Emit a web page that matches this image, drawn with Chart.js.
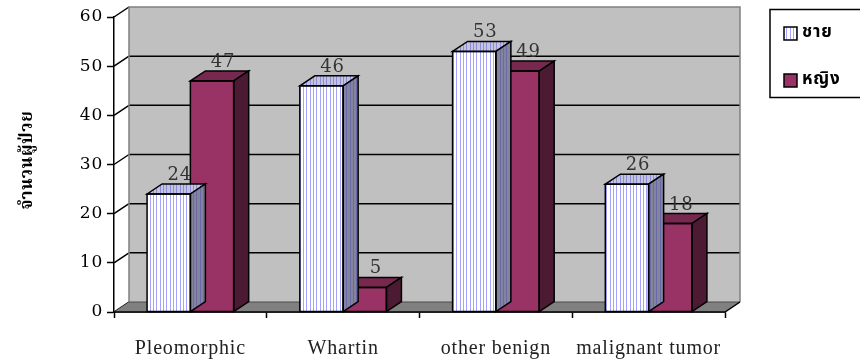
<!DOCTYPE html>
<html>
<head>
<meta charset="utf-8">
<script src="https://cdn.jsdelivr.net/npm/chart.js@4/dist/chart.umd.min.js"></script>
<style>
  html, body { margin: 0; padding: 0; background: #ffffff; }
  #wrap { width: 860px; height: 360px; }
</style>
</head>
<body>
<div id="wrap"><canvas id="c" width="860" height="360"></canvas></div>
<script>
// ---- data ----
const categories = ['Pleomorphic', 'Whartin', 'other benign', 'malignant tumor'];
const maleCounts = [24, 46, 53, 26];
const femaleCounts = [47, 5, 49, 18];
const seriesNames = ['ชาย', 'หญิง'];
const yTickValues = [0, 10, 20, 30, 40, 50, 60];
const yTitle = 'จำนวนผู้ป่วย';

// ---- look ----
const DX = 15, DY = 10;            // depth offset of the 3-D box
const SERIF = '"Liberation Serif", "Times New Roman", serif';
const NUM = '"DejaVu Serif", "Liberation Serif", serif';
const THAI_SERIF = '"Noto Serif Thai", "Noto Sans Thai", serif';
const THAI_SANS = '"Noto Sans Thai", "Loma", "Garuda", sans-serif';

const canvas = document.getElementById('c');
const ctx = canvas.getContext('2d');

function stripes(bg, line) {
  const p = document.createElement('canvas');
  p.width = 10; p.height = 4;
  const g = p.getContext('2d');
  g.fillStyle = bg; g.fillRect(0, 0, 10, 4);
  g.fillStyle = line;
  [0, 3, 6].forEach(x => g.fillRect(x, 0, 1, 4));
  return ctx.createPattern(p, 'repeat');
}

const faces = [
  { front: stripes('#ffffff', '#a4a4ff'), top: stripes('#c4c4dc', '#8c8cd8'), side: stripes('#84849c', '#6a6aa8') },
  { front: '#993366', top: '#76284f', side: '#4c1a33' }
];

function setSpacing(c) { if ('letterSpacing' in c) c.letterSpacing = '0.8px'; }

const boxPlugin = {
  id: 'box3d',
  beforeUpdate(chart) { setSpacing(chart.ctx); },
  beforeDraw(chart) { setSpacing(chart.ctx); },
  beforeDatasetsDraw(chart) {
    const { ctx, chartArea: a, scales: { y } } = chart;
    const L = a.left, R = a.right, T = a.top, B = a.bottom;
    ctx.save();
    // back wall
    ctx.fillStyle = '#c0c0c0';
    ctx.fillRect(L + DX, T - DY, R - L, B - T);
    // wall grid lines and the slanted ticks on the side wall
    ctx.strokeStyle = '#000';
    ctx.lineWidth = 1.5;
    yTickValues.forEach(v => {
      const py = y.getPixelForValue(v);
      ctx.beginPath();
      ctx.moveTo(L, py); ctx.lineTo(L + DX, py - DY);
      if (v > 0 && v < 60) { ctx.moveTo(L + DX, py - DY); ctx.lineTo(R + DX, py - DY); }
      ctx.stroke();
    });
    // wall frame
    ctx.strokeStyle = '#808080';
    ctx.lineWidth = 1.5;
    ctx.beginPath();
    ctx.moveTo(L + DX, B - DY); ctx.lineTo(L + DX, T - DY);
    ctx.lineTo(R + DX, T - DY); ctx.lineTo(R + DX, B - DY);
    ctx.stroke();
    // floor
    ctx.fillStyle = '#808080';
    ctx.beginPath();
    ctx.moveTo(L, B); ctx.lineTo(R, B); ctx.lineTo(R + DX, B - DY); ctx.lineTo(L + DX, B - DY);
    ctx.closePath();
    ctx.fill();
    ctx.strokeStyle = '#4a4a4a';
    ctx.lineWidth = 1;
    ctx.beginPath(); ctx.moveTo(L + DX, B - DY); ctx.lineTo(R + DX, B - DY); ctx.stroke();
    ctx.strokeStyle = '#000';
    ctx.lineWidth = 1.5;
    ctx.beginPath();
    ctx.moveTo(L, B); ctx.lineTo(R, B); ctx.lineTo(R + DX, B - DY);
    ctx.stroke();
    ctx.restore();
  },
  afterDatasetDraw(chart, args) {
    const { ctx } = chart;
    const f = faces[args.index];
    const meta = chart.getDatasetMeta(args.index);
    ctx.save();
    ctx.strokeStyle = '#000';
    ctx.lineWidth = 1.5;
    ctx.lineJoin = 'miter';
    meta.data.forEach(bar => {
      const { x, y, base, width } = bar.getProps(['x', 'y', 'base', 'width'], true);
      const l = x - width / 2, r = x + width / 2;
      // top face
      ctx.fillStyle = f.top;
      ctx.beginPath();
      ctx.moveTo(l, y); ctx.lineTo(l + DX, y - DY); ctx.lineTo(r + DX, y - DY); ctx.lineTo(r, y);
      ctx.closePath(); ctx.fill(); ctx.stroke();
      // side face
      ctx.fillStyle = f.side;
      ctx.beginPath();
      ctx.moveTo(r, y); ctx.lineTo(r + DX, y - DY); ctx.lineTo(r + DX, base - DY); ctx.lineTo(r, base);
      ctx.closePath(); ctx.fill(); ctx.stroke();
      // front outline
      ctx.strokeRect(l, y, width, base - y);
    });
    ctx.restore();
  },
  afterDatasetsDraw(chart) {
    const { ctx } = chart;
    ctx.save();
    setSpacing(ctx);
    ctx.font = '18px ' + NUM;
    ctx.fillStyle = '#333333';
    ctx.textAlign = 'center';
    ctx.textBaseline = 'alphabetic';
    chart.data.datasets.forEach((ds, i) => {
      chart.getDatasetMeta(i).data.forEach((bar, j) => {
        ctx.fillText(String(ds.data[j]), bar.x + 11, bar.y - DY - 4);
      });
    });
    ctx.restore();
  },
  afterDraw(chart) {
    const { ctx } = chart;
    ctx.save();
    // axis title
    ctx.font = 'bold 17px ' + THAI_SERIF;
    ctx.fillStyle = '#000';
    ctx.textAlign = 'center';
    ctx.textBaseline = 'middle';
    ctx.translate(29, 160);
    ctx.rotate(-Math.PI / 2);
    ctx.fillText(yTitle, 0, 0);
    ctx.restore();

    // legend
    ctx.save();
    ctx.strokeStyle = '#000';
    ctx.lineWidth = 1.5;
    ctx.strokeRect(770, 9.5, 100, 88);
    ctx.font = 'bold 17px ' + THAI_SANS;
    ctx.fillStyle = '#000';
    ctx.textBaseline = 'middle';
    ctx.textAlign = 'left';
    seriesNames.forEach((name, i) => {
      const sy = 27 + i * 47;
      ctx.fillStyle = faces[i].front;
      ctx.fillRect(784, sy, 13, 13);
      ctx.strokeRect(784, sy, 13, 13);
      ctx.fillStyle = '#000';
      ctx.fillText(name, 802, sy + 7);
    });
    ctx.restore();
  }
};

new Chart(canvas, {
  type: 'bar',
  data: {
    labels: categories,
    datasets: [
      { label: seriesNames[0], data: maleCounts, backgroundColor: faces[0].front, borderWidth: 0 },
      { label: seriesNames[1], data: femaleCounts, backgroundColor: faces[1].front, borderWidth: 0 }
    ]
  },
  options: {
    responsive: false,
    animation: false,
    devicePixelRatio: 1,
    categoryPercentage: 0.567,
    barPercentage: 1,
    layout: { padding: { left: 0, top: 17, right: 135, bottom: 0 } },
    plugins: { legend: { display: false }, tooltip: { enabled: false } },
    scales: {
      x: {
        grid: { offset: true, drawOnChartArea: false, drawTicks: true, tickLength: 6, tickColor: '#000', tickWidth: 1.5 },
        border: { display: true, color: '#000', width: 1.5 },
        ticks: { font: { family: SERIF, size: 20 }, color: '#222', padding: 19, maxRotation: 0 },
        afterFit(s) { s.height = 48; }
      },
      y: {
        min: 0, max: 60,
        afterBuildTicks(s) { s.ticks = yTickValues.map(v => ({ value: v })); },
        grid: { drawOnChartArea: false, drawTicks: true, tickLength: 7, tickColor: '#000', tickWidth: 1.5 },
        border: { display: true, color: '#000', width: 1.5 },
        ticks: { font: { family: NUM, size: 17 }, color: '#000', padding: 4 },
        afterFit(s) { s.width = 114; }
      }
    }
  },
  plugins: [boxPlugin]
});
</script>
</body>
</html>
